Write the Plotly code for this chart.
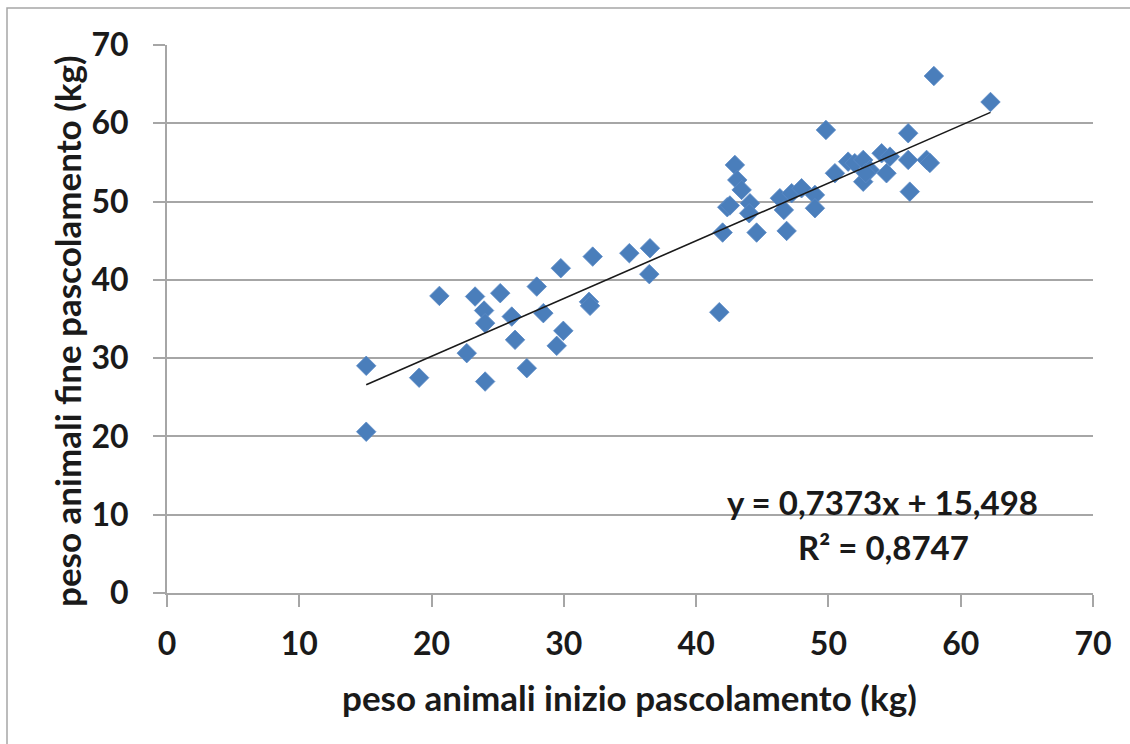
import plotly.graph_objects as go

# data
peso_inizio = [15.06, 15.06, 19.06, 20.59, 22.66, 23.29, 23.97, 24.05, 24.05, 25.19,
               26.06, 26.31, 27.20, 27.95, 28.45, 29.46, 29.77, 29.96, 31.90, 31.98,
               32.18, 34.95, 36.46, 36.51, 41.75, 42.00, 42.35, 42.55, 42.93, 43.11,
               43.44, 44.07, 44.01, 44.57, 46.33, 46.63, 46.84, 47.22, 47.97, 48.98,
               48.98, 49.81, 50.49, 51.49, 51.99, 52.63, 53.13, 52.63, 52.82, 54.02,
               54.65, 54.39, 56.03, 57.42, 57.67, 56.15, 56.03, 57.97, 62.25]
peso_fine = [29.02, 20.60, 27.50, 37.95, 30.64, 37.87, 36.08, 34.47, 27.01, 38.30,
             35.31, 32.34, 28.72, 39.14, 35.75, 31.57, 41.49, 33.49, 37.19, 36.68,
             42.97, 43.41, 40.73, 44.04, 35.87, 46.04, 49.28, 49.50, 54.68, 52.76,
             51.49, 49.79, 48.51, 46.04, 50.43, 48.93, 46.25, 51.07, 51.70, 50.85,
             49.15, 59.15, 53.62, 55.10, 54.90, 55.32, 54.03, 52.54, 53.64, 56.17,
             55.74, 53.62, 55.32, 55.32, 54.94, 51.27, 58.73, 66.04, 62.72]

slope = 0.7373
intercept = 15.498
r2 = 0.8747

x_ticks = [0, 10, 20, 30, 40, 50, 60, 70]
y_ticks = [0, 10, 20, 30, 40, 50, 60, 70]

FONT = "Lato"
GRAY = "#A6A6A6"
BLUE = "#4A7EBB"
TXT = "#1a1a1a"

fig = go.Figure()
fig.add_trace(go.Scatter(
    x=peso_inizio, y=peso_fine, mode="markers",
    marker=dict(symbol="diamond", size=15, color=BLUE,
                line=dict(width=0.8, color="#5A8AC6")),
    showlegend=False, hoverinfo="x+y"))

xmin, xmax = min(peso_inizio), max(peso_inizio)
fig.add_trace(go.Scatter(
    x=[xmin, xmax], y=[slope * xmin + intercept, slope * xmax + intercept],
    mode="lines", line=dict(color=TXT, width=1.6),
    showlegend=False, hoverinfo="skip"))

L, R, T, B = 167, 37, 45, 151
W, H = 1130, 744
pw, ph = W - L - R, H - T - B

def px(xp):
    return (xp - L) / pw

def py(yp):
    return (H - B - yp) / ph

fig.update_layout(
    width=W, height=H,
    margin=dict(l=L, r=R, t=T, b=B, pad=0),
    paper_bgcolor="white", plot_bgcolor="white",
    font=dict(family=FONT, color=TXT),
    xaxis=dict(range=[0, 70], tickvals=x_ticks, ticktext=[str(v) for v in x_ticks],
               showgrid=False, zeroline=False, showline=True, linecolor=GRAY, linewidth=2,
               ticks="outside", ticklen=12, tickwidth=2, tickcolor=GRAY,
               tickfont=dict(family=FONT, size=32, color=TXT, weight="bold"),
               ticklabelstandoff=10),
    yaxis=dict(range=[0, 70], tickvals=y_ticks, ticktext=[str(v) for v in y_ticks],
               showgrid=True, gridcolor=GRAY, gridwidth=2, zeroline=False,
               showline=True, linecolor=GRAY, linewidth=2,
               ticks="outside", ticklen=12, tickwidth=2, tickcolor=GRAY,
               tickfont=dict(family=FONT, size=32, color=TXT, weight="bold"),
               ticklabelstandoff=18),
    shapes=[dict(type="rect", xref="paper", yref="paper",
                 x0=px(7), x1=px(1400), y0=py(1000), y1=py(8),
                 line=dict(color=GRAY, width=1.5), layer="below")],
    annotations=[
        dict(text="<b>peso animali inizio pascolamento (kg)</b>", xref="paper", yref="paper",
             x=px(629), y=py(697), xanchor="center", yanchor="middle", showarrow=False,
             font=dict(family=FONT, size=35, color=TXT)),
        dict(text="<b>peso animali fine pascolamento (kg)</b>", xref="paper", yref="paper",
             x=px(67), y=py(331), xanchor="center", yanchor="middle", showarrow=False,
             textangle=-90, font=dict(family=FONT, size=35, color=TXT)),
        dict(text="<b>y = %sx + %s</b>" % (f"{slope:.4f}".replace(".", ","),
                                           f"{intercept:.3f}".replace(".", ",")),
             xref="paper", yref="paper", x=px(882), y=py(502),
             xanchor="center", yanchor="middle", showarrow=False,
             font=dict(family=FONT, size=33, color=TXT)),
        dict(text="<b>R² = %s</b>" % f"{r2:.4f}".replace(".", ","),
             xref="paper", yref="paper", x=px(883), y=py(547),
             xanchor="center", yanchor="middle", showarrow=False,
             font=dict(family=FONT, size=33, color=TXT)),
    ],
)

fig.write_html("out.html")
